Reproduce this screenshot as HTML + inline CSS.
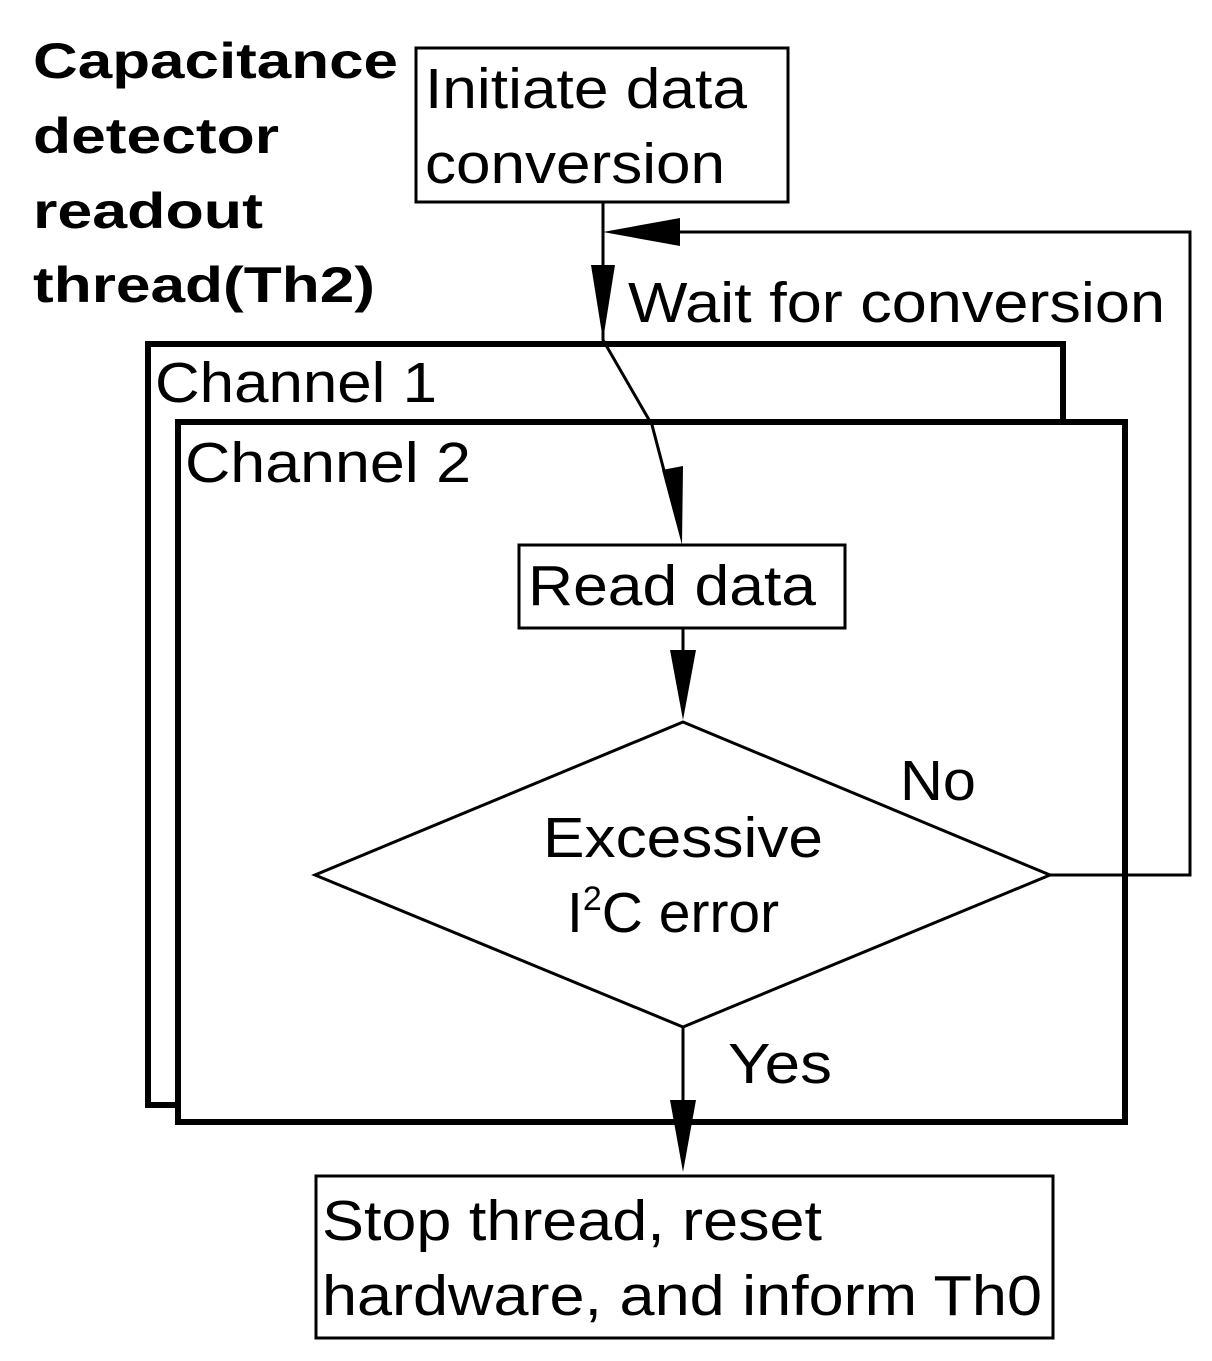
<!DOCTYPE html>
<html><head><style>
html,body{margin:0;padding:0;background:#fff;}
svg{display:block;}
text{font-family:"Liberation Sans",Arial,sans-serif;fill:#000;}
</style></head><body>
<svg width="1212" height="1361" viewBox="0 0 1212 1361" xmlns="http://www.w3.org/2000/svg">
<rect width="1212" height="1361" fill="#fff"/>
<g font-weight="bold" font-size="50">
<text x="33" y="78" textLength="365" lengthAdjust="spacingAndGlyphs">Capacitance</text>
<text x="33" y="153" textLength="246" lengthAdjust="spacingAndGlyphs">detector</text>
<text x="33" y="228" textLength="230" lengthAdjust="spacingAndGlyphs">readout</text>
<text x="33" y="302" textLength="342" lengthAdjust="spacingAndGlyphs">thread(Th2)</text>
</g>
<g fill="none" stroke="#000">
<rect x="416" y="48" width="372" height="154" stroke-width="3"/>
<rect x="148" y="344" width="915" height="761" stroke-width="6"/>
<rect x="178" y="422" width="947" height="700" stroke-width="6" fill="#fff"/>
<rect x="519" y="545" width="326" height="83" stroke-width="3"/>
<polygon points="683,722 1050,875 683,1027 315,875" stroke-width="3"/>
<rect x="316" y="1176" width="737" height="162" stroke-width="3"/>
<polyline points="603,202 603,340 652,425 677,520" stroke-width="3"/>
<polyline points="1050,875 1190,875 1190,232 640,232" stroke-width="3"/>
<line x1="683" y1="628" x2="683" y2="680" stroke-width="3"/>
<line x1="683" y1="1027" x2="683" y2="1110" stroke-width="3"/>
</g>
<line x1="148" y1="344" x2="1063" y2="344" stroke="#000" stroke-width="6"/>
<g fill="#000">
<polygon points="603,232 680,218 680,246"/>
<polygon points="591,265 615,265 603,340"/>
<polygon points="662,470 683,466 682,545"/>
<polygon points="670,650 696,650 683,720"/>
<polygon points="670,1100 696,1100 683,1172"/>
</g>
<g font-size="57">
<text x="425" y="108" textLength="322" lengthAdjust="spacingAndGlyphs">Initiate data</text>
<text x="425" y="183" textLength="300" lengthAdjust="spacingAndGlyphs">conversion</text>
<text x="628" y="322" textLength="537" lengthAdjust="spacingAndGlyphs">Wait for conversion</text>
<text x="155" y="402" textLength="282" lengthAdjust="spacingAndGlyphs">Channel 1</text>
<text x="185" y="482" textLength="286" lengthAdjust="spacingAndGlyphs">Channel 2</text>
<text x="528" y="605" textLength="288" lengthAdjust="spacingAndGlyphs">Read data</text>
<text x="900" y="800" textLength="76" lengthAdjust="spacingAndGlyphs">No</text>
<text x="543" y="857" textLength="280" lengthAdjust="spacingAndGlyphs">Excessive</text>
<text x="567" y="932">I<tspan font-size="34" dy="-22">2</tspan><tspan dy="22">C error</tspan></text>
<text x="728" y="1083" textLength="104" lengthAdjust="spacingAndGlyphs">Yes</text>
<text x="322" y="1240" textLength="500" lengthAdjust="spacingAndGlyphs">Stop thread, reset</text>
<text x="322" y="1315" textLength="720" lengthAdjust="spacingAndGlyphs">hardware, and inform Th0</text>
</g>
</svg>
</body></html>
